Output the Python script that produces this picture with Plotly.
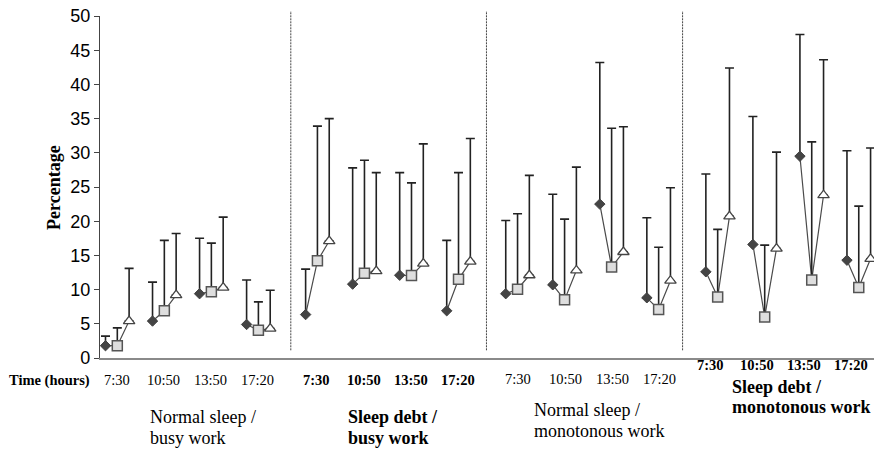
import plotly.graph_objects as go

# ---------------- data ----------------
TIME_LABELS = ["7:30", "10:50", "13:50", "17:20"]
PANEL_LINE1 = ["Normal sleep /", "Sleep debt /", "Normal sleep /", "Sleep debt /"]
PANEL_LINE2 = ["busy work", "busy work", "monotonous work", "monotonous work"]

# means (4 panels x 4 times, flattened panel-major)
diamond_mean = [1.8, 5.4, 9.4, 4.9,
                6.35, 10.8, 12.1, 6.9,
                9.4, 10.7, 22.5, 8.8,
                12.6, 16.6, 29.5, 14.3]
diamond_top = [3.2, 11.1, 17.5, 11.4,
               13.0, 27.8, 27.1, 17.2,
               20.1, 23.95, 43.2, 20.5,
               26.9, 35.3, 47.3, 30.3]

square_mean = [1.8, 6.9, 9.7, 4.05,
               14.2, 12.4, 12.05, 11.5,
               10.05, 8.5, 13.3, 7.1,
               8.9, 6.0, 11.4, 10.3]
square_top = [4.4, 17.2, 16.8, 8.2,
              33.9, 28.9, 25.6, 27.1,
              21.1, 20.3, 33.6, 16.2,
              18.8, 16.5, 31.6, 22.2]

triangle_mean = [5.4, 9.2, 10.3, 4.3,
                 17.1, 12.7, 13.8, 14.1,
                 12.1, 12.8, 15.5, 11.3,
                 20.7, 16.0, 23.8, 14.5]
triangle_top = [13.1, 18.2, 20.6, 9.9,
                35.0, 27.1, 31.3, 32.1,
                26.7, 27.9, 33.8, 24.9,
                42.4, 30.1, 43.6, 30.7]

# ---------------- layout constants ----------------
PANEL_STEP = 4.255
GROUP_STEP = 1.0
SERIES_STEP = 0.251
SEP_X = [3.94, 8.10, 12.27]
PANEL_BOLD = [False, True, False, True]
LABEL_OFF = [0.24, 0.24, 0.26, 0.09]
LABEL_Y = [-0.0652, -0.0652, -0.060, -0.020]
TITLE_X = [0.894, 0.866, 0.548, 0.51]
TITLE_Y1 = [-0.1725, -0.1725, -0.153, -0.0857]
TITLE_Y2 = [-0.2348, -0.2348, -0.214, -0.144]

SERIF = "Liberation Serif"
SANS = "Liberation Sans"

n_p, n_t = 4, 4


def xpos(p, t, s):
    return p * PANEL_STEP + t * GROUP_STEP + s * SERIES_STEP


series = [
    (diamond_mean, diamond_top, dict(symbol="diamond", size=8, color="#444444",
                                     line=dict(color="#444444", width=1))),
    (square_mean, square_top, dict(symbol="square", size=10, color="#dedede",
                                   line=dict(color="#555555", width=1.5))),
    (triangle_mean, triangle_top, dict(symbol="triangle-up", size=10, color="white",
                                       line=dict(color="#444444", width=1.3))),
]

fig = go.Figure()

# connecting lines within each group
lx, ly = [], []
for p in range(n_p):
    for t in range(n_t):
        i = p * n_t + t
        for s, (m, _, _) in enumerate(series):
            lx.append(xpos(p, t, s))
            ly.append(m[i])
        lx.append(None)
        ly.append(None)
fig.add_trace(go.Scatter(x=lx, y=ly, mode="lines",
                         line=dict(color="#4a4a4a", width=1.2),
                         hoverinfo="skip", showlegend=False))

for s, (m, top, mk) in enumerate(series):
    xs, ys, up = [], [], []
    for p in range(n_p):
        for t in range(n_t):
            i = p * n_t + t
            xs.append(xpos(p, t, s))
            ys.append(m[i])
            up.append(top[i] - m[i])
    fig.add_trace(go.Scatter(
        x=xs, y=ys, mode="markers", marker=mk, showlegend=False,
        error_y=dict(type="data", symmetric=False, array=up,
                     arrayminus=[0] * len(up), color="#222222",
                     thickness=1.6, width=4.5)))

shapes = []
for sx in SEP_X:
    shapes.append(dict(type="line", xref="x", yref="paper", x0=sx, x1=sx,
                       y0=0.0225, y1=1.0146,
                       line=dict(color="#444444", width=1, dash="2px,1px")))

ann = []
for p in range(n_p):
    for t in range(n_t):
        txt = TIME_LABELS[t]
        if PANEL_BOLD[p]:
            txt = "<b>" + txt + "</b>"
        ann.append(dict(x=p * PANEL_STEP + t * GROUP_STEP + LABEL_OFF[p], y=LABEL_Y[p],
                        xref="x", yref="paper", text=txt, showarrow=False,
                        xanchor="center", yanchor="middle",
                        font=dict(family=SERIF, size=14.5, color="black")))
    l1, l2 = PANEL_LINE1[p], PANEL_LINE2[p]
    if PANEL_BOLD[p]:
        l1, l2 = "<b>" + l1 + "</b>", "<b>" + l2 + "</b>"
    for txt, yy in ((l1, TITLE_Y1[p]), (l2, TITLE_Y2[p])):
        ann.append(dict(x=p * PANEL_STEP + TITLE_X[p], y=yy, xref="x", yref="paper",
                        text=txt, showarrow=False, xanchor="left", yanchor="middle",
                        font=dict(family=SERIF, size=18, color="black")))

ann.append(dict(x=-0.0105, y=-0.0652, xref="paper", yref="paper",
                text="<b>Time (hours)</b>", showarrow=False,
                xanchor="right", yanchor="middle",
                font=dict(family=SERIF, size=14.5, color="black")))
ann.append(dict(x=-0.0595, y=0.5, xref="paper", yref="paper",
                text="<b>Percentage</b>", showarrow=False, textangle=-90,
                xanchor="center", yanchor="middle",
                font=dict(family=SERIF, size=18, color="black")))

fig.update_layout(
    width=874, height=453,
    margin=dict(l=100, r=0, t=16, b=95),
    paper_bgcolor="white", plot_bgcolor="white",
    shapes=shapes, annotations=ann,
    xaxis=dict(range=[-0.117, 16.34], showgrid=False, zeroline=False,
               showticklabels=False, ticks="", showline=True,
               linecolor="#8a8a8a", linewidth=2),
    yaxis=dict(range=[0, 50], dtick=5, showgrid=False, zeroline=False,
               showline=True, linecolor="#444444", linewidth=1.2,
               ticks="outside", ticklen=5, tickcolor="#444444", tickwidth=1.2,
               tickfont=dict(family=SANS, size=18, color="black")),
)

fig.write_html("out.html")
